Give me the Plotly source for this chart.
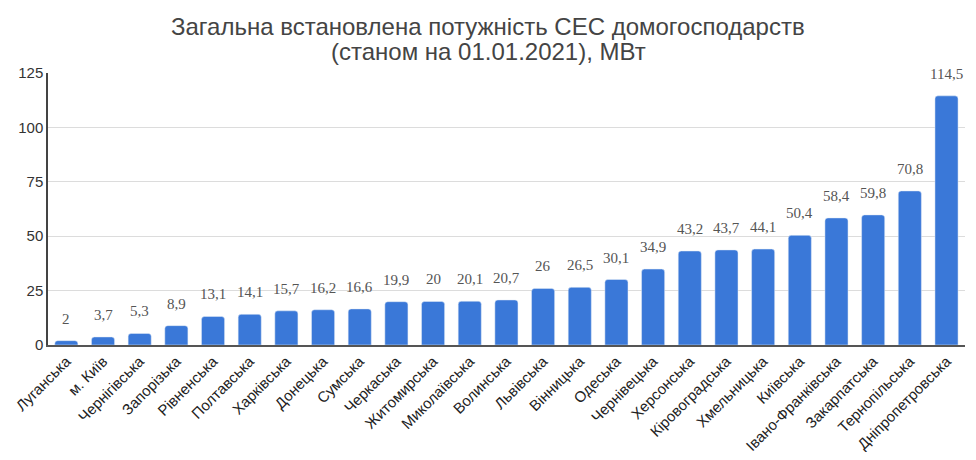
import plotly.graph_objects as go

regions = ["Луганська", "м. Київ", "Чернігівська", "Запорізька", "Рівненська",
           "Полтавська", "Харківська", "Донецька", "Сумська", "Черкаська",
           "Житомирська", "Миколаївська", "Волинська", "Львівська", "Вінницька",
           "Одеська", "Чернівецька", "Херсонська", "Кіровоградська", "Хмельницька",
           "Київська", "Івано-Франківська", "Закарпатська", "Тернопільська",
           "Дніпропетровська"]
capacity_mw = [2, 3.7, 5.3, 8.9, 13.1, 14.1, 15.7, 16.2, 16.6, 19.9,
               20, 20.1, 20.7, 26, 26.5, 30.1, 34.9, 43.2, 43.7, 44.1,
               50.4, 58.4, 59.8, 70.8, 114.5]
y_ticks = [0, 25, 50, 75, 100, 125]
title_lines = ["Загальна встановлена потужність СЕС домогосподарств",
               "(станом на 01.01.2021), МВт"]

labels = [f"{v:g}".replace(".", ",") for v in capacity_mw]

# the page body adds an 8px margin, so the figure is a bit smaller than the window
W, H = 960, 444
M_L, M_R, M_T, M_B = 40, 3, 65, 107
plot_w = W - M_L - M_R
plot_h = H - M_T - M_B

fig = go.Figure()
fig.add_trace(go.Bar(
    x=regions, y=capacity_mw,
    marker=dict(color="#3a78d8", cornerradius=3),
    hoverinfo="x+y",
))

# value labels above the bars
for name, v, lab in zip(regions, capacity_mw, labels):
    fig.add_annotation(
        x=name, y=v, text=lab, showarrow=False,
        yanchor="middle", yshift=22,
        font=dict(family="Liberation Serif, Times New Roman, serif", size=15, color="#555555"),
    )

# title, two lines set tight together, centred on the whole figure
for i, line in enumerate(title_lines):
    px = 19 + 24 * i
    fig.add_annotation(
        x=(W / 2 - M_L) / plot_w, xref="paper",
        y=1 + (M_T - px) / plot_h, yref="paper",
        text=line, showarrow=False, xanchor="center", yanchor="middle",
        font=dict(family="Liberation Sans, Arial, sans-serif", size=24, color="#444444"),
    )

fig.update_layout(
    width=W, height=H,
    margin=dict(l=M_L, r=M_R, t=M_T, b=M_B),
    paper_bgcolor="white", plot_bgcolor="white",
    bargap=0.37,
    showlegend=False,
)

fig.update_yaxes(
    range=[0, 125], tickvals=y_ticks,
    showgrid=True, gridcolor="#dcdcdc", gridwidth=1,
    showline=True, linecolor="#444444", linewidth=1.5,
    zeroline=False, ticks="", automargin=False,
    tickfont=dict(family="Liberation Sans, Arial, sans-serif", size=15, color="#333333"),
)
fig.update_xaxes(
    tickangle=-45, showline=True, linecolor="#555555", linewidth=1.5,
    ticks="", automargin=False,
    tickfont=dict(family="Liberation Sans, Arial, sans-serif", size=15, color="#222222"),
)

fig.write_html("out.html")
